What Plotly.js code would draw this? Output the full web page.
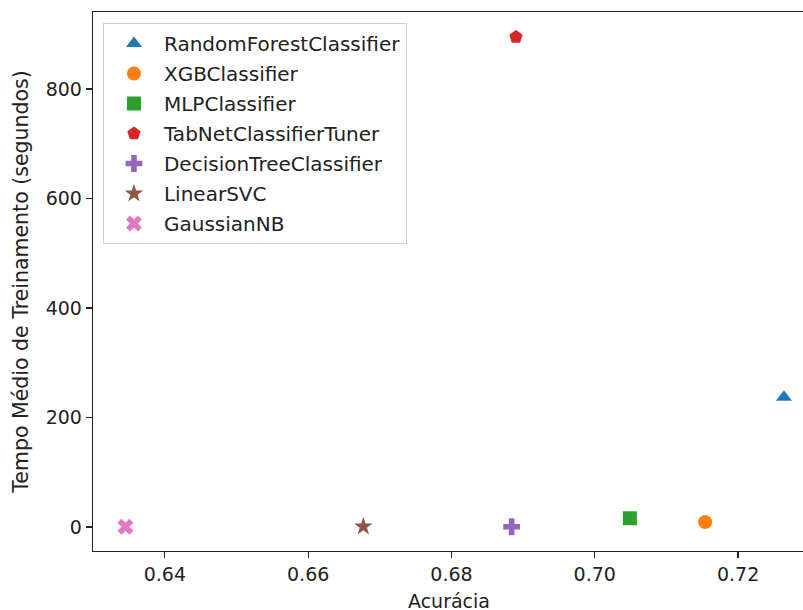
<!DOCTYPE html>
<html>
<head>
<meta charset="utf-8">
<script src="https://cdn.plot.ly/plotly-3.0.1.min.js"></script>
<style>
html,body{margin:0;padding:0;overflow:hidden;background:#fff;width:803px;height:610px;}
#chart{width:820px;height:630px;}
</style>
</head>
<body>
<div id="chart"></div>
<script>
const models = ["RandomForestClassifier","XGBClassifier","MLPClassifier","TabNetClassifierTuner","DecisionTreeClassifier","LinearSVC","GaussianNB"];
const accuracy = [0.7264, 0.7154, 0.7049, 0.6890, 0.6884, 0.6677, 0.6345];
const trainTime = [237, 9, 16, 895, 0.5, 1, 0.5];
const colors = ["#1f77b4","#ff7f0e","#2ca02c","#d62728","#9467bd","#8c564b","#e377c2"];
const symbols = ["triangle-up","circle","square","pentagon","cross","star","x"];
const xTicks = [0.64, 0.66, 0.68, 0.70, 0.72];
const xTickText = ["0.64","0.66","0.68","0.70","0.72"];
const yTicks = [0, 200, 400, 600, 800];

const traces = models.map((m, i) => ({
  type: "scatter",
  mode: "markers",
  name: m,
  legendgroup: "g" + i,
  x: [accuracy[i]],
  y: [trainTime[i]],
  marker: {symbol: symbols[i], color: colors[i], size: 14, line: {width: 0}}
}));

const font = {family: "DejaVu Sans, sans-serif", size: 19, color: "#222"};
const layout = {
  width: 820, height: 630,
  margin: {l: 93, r: 15, t: 12, b: 79},
  paper_bgcolor: "#fff", plot_bgcolor: "#fff",
  font: font,
  showlegend: true,
  legend: {
    x: 0.014, y: 0.9796, xanchor: "left", yanchor: "top",
    bgcolor: "rgba(255,255,255,0.8)", bordercolor: "#d0d0d0", borderwidth: 1,
    font: {family: "DejaVu Sans, sans-serif", size: 20, color: "#222"},
    tracegroupgap: 1, itemwidth: 50
  },
  xaxis: {
    range: [0.62997, 0.72934],
    tickvals: xTicks, ticktext: xTickText,
    ticks: "outside", ticklen: 6, tickwidth: 1.2, tickcolor: "#222",
    showline: true, mirror: true, linecolor: "#222", linewidth: 1.3,
    showgrid: false, zeroline: false,
    title: {text: "Acurácia", font: font, standoff: 10}
  },
  yaxis: {
    range: [-43.8, 940.6],
    tickvals: yTicks,
    ticks: "outside", ticklen: 6, tickwidth: 1.2, tickcolor: "#222",
    showline: true, mirror: true, linecolor: "#222", linewidth: 1.3,
    showgrid: false, zeroline: false,
    title: {text: "Tempo Médio de Treinamento (segundos)", font: {family: "DejaVu Sans, sans-serif", size: 20.5, color: "#222"}, standoff: 11}
  }
};
Plotly.newPlot("chart", traces, layout, {displayModeBar: false, staticPlot: true});
</script>
</body>
</html>
